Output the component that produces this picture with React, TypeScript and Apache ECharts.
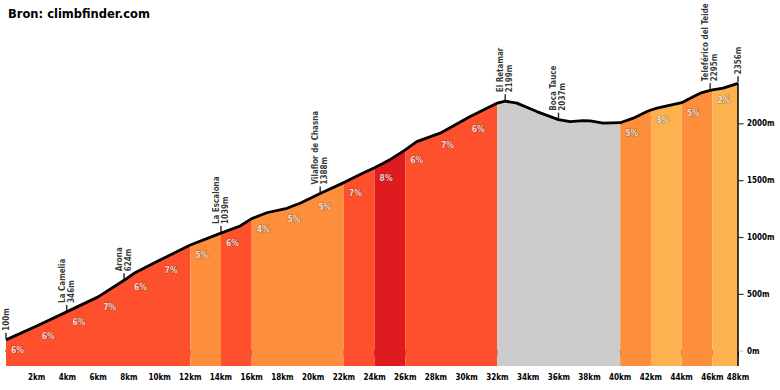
import React, { useEffect, useRef } from "react";
import * as echarts from "echarts";

// Elevation profile (km, m)
const distanceKm = [
  0, 2, 3.95, 6, 7.69, 8.4, 9.93, 12, 14, 15.24, 16, 16.98, 18.29, 19.15, 20.46, 22,
  23.26, 24, 25, 25.67, 26, 26.75, 28.27, 30.23, 32, 32.51, 33.27, 34.57, 35.98,
  36.74, 37.59, 38.05, 38.89, 40, 40.85, 41.74, 42, 42.39, 44, 44.56, 45.21, 45.86,
  46, 46.7, 47.67,
];
const elevationM = [
  100, 222, 346, 478, 624, 690, 795, 934, 1039, 1101, 1166, 1218, 1257, 1301, 1388, 1483,
  1568, 1614, 1685, 1742, 1771, 1844, 1918, 2064, 2183, 2199, 2182, 2108, 2037,
  2020, 2029, 2026, 2006, 2010, 2050, 2108, 2122, 2138, 2186, 2226, 2270, 2295,
  2298, 2314, 2356,
];

// Gradient segments
const segStart = [0, 2, 4, 6, 8, 10, 12, 14, 16, 18, 20, 22, 24, 26, 28, 30, 32, 40, 42, 44, 46];
const segEnd = [2, 4, 6, 8, 10, 12, 14, 16, 18, 20, 22, 24, 26, 28, 30, 32, 40, 42, 44, 46, 47.67];
const segGrade: (number | null)[] = [6, 6, 6, 7, 6, 7, 5, 6, 4, 5, 5, 7, 8, 6, 7, 6, null, 5, 3, 5, 2];

// Places
const placeKm = [0, 3.95, 7.69, 14, 20.46, 32.51, 35.98, 45.86, 47.67];
const placeName = ["", "La Camelia", "Arona", "La Escalona", "Vilaflor de Chasna", "El Retamar", "Boca Tauce", "Teleférico del Teide", ""];
const placeElev = [100, 346, 624, 1039, 1388, 2199, 2037, 2295, 2356];

// Axis ticks
const kmTickValues = [2, 4, 6, 8, 10, 12, 14, 16, 18, 20, 22, 24, 26, 28, 30, 32, 34, 36, 38, 40, 42, 44, 46, 47.67];
const elevTickValues = [0, 500, 1000, 1500, 2000];

const FONT = "'DejaVu Sans Condensed', 'DejaVu Sans', sans-serif";
const Y_MIN = -130;
const Y_MAX = 2500;

function gradeColor(g: number | null): string {
  if (g == null) return "#cccccc";
  if (g >= 8) return "#e01b1f";
  if (g >= 6) return "#fe502d";
  if (g >= 4) return "#fd8e3c";
  return "#feb24f";
}

function elevAt(km: number): number {
  for (let i = 0; i < distanceKm.length - 1; i++) {
    if (km >= distanceKm[i] && km <= distanceKm[i + 1]) {
      const t = (km - distanceKm[i]) / (distanceKm[i + 1] - distanceKm[i]);
      return elevationM[i] + t * (elevationM[i + 1] - elevationM[i]);
    }
  }
  return elevationM[elevationM.length - 1];
}

export default function App() {
  const ref = useRef<HTMLDivElement>(null);
  useEffect(() => {
    if (!ref.current) return;
    const chart = echarts.init(ref.current, null, { renderer: "svg" });

    const groups: { start: number; end: number; color: string }[] = [];
    segStart.forEach((s, i) => {
      const c = gradeColor(segGrade[i]);
      const last = groups[groups.length - 1];
      if (last && last.color === c) last.end = segEnd[i];
      else groups.push({ start: s, end: segEnd[i], color: c });
    });

    const profile = distanceKm.map((d, i) => [d, elevationM[i]]);
    const lastKm = distanceKm[distanceKm.length - 1];
    const lastElev = elevationM[elevationM.length - 1];

    const areaSeries = groups.map((g) => ({
      type: "line",
      data: profile.filter((p) => p[0] >= g.start - 1e-6 && p[0] <= g.end + 1e-6),
      symbol: "none",
      lineStyle: { width: 0, opacity: 0 },
      areaStyle: { color: g.color, opacity: 1, origin: "start" },
      silent: true,
      z: 1,
    }));

    const gradeLabels = segStart
      .map((s, i) => ({ s, g: segGrade[i] }))
      .filter((o) => o.g != null)
      .map((o) => [o.s + 0.75, elevAt(o.s), o.g]);

    const option: any = {
      animation: false,
      title: {
        text: "Bron: climbfinder.com",
        left: 8,
        top: 8,
        padding: 0,
        textStyle: { fontFamily: "'DejaVu Sans', sans-serif", fontWeight: "bold", fontSize: 11.5, color: "#000" },
      },
      grid: { left: 6, right: 42, top: 67, bottom: 24 },
      xAxis: {
        type: "value",
        min: 0,
        max: lastKm,
        axisLine: { lineStyle: { color: "#000", width: 1.5 } },
        axisTick: { customValues: kmTickValues, length: 5, lineStyle: { color: "#000", width: 1.5 } },
        axisLabel: {
          customValues: kmTickValues,
          formatter: (v: number) => Math.round(v) + "km",
          fontFamily: FONT,
          fontWeight: "bold",
          fontSize: 8,
          color: "#000",
          margin: 7,
        },
        splitLine: { show: false },
      },
      yAxis: {
        type: "value",
        position: "right",
        min: Y_MIN,
        max: Y_MAX,
        axisLine: { show: false },
        axisTick: { show: false },
        axisLabel: {
          customValues: elevTickValues,
          formatter: (v: number) => v + "m",
          fontFamily: FONT,
          fontWeight: "bold",
          fontSize: 8,
          color: "#000",
          margin: 9,
        },
        splitLine: { show: false },
      },
      series: [
        ...areaSeries,
        {
          type: "line",
          data: profile,
          symbol: "none",
          lineStyle: { color: "#000", width: 2.8 },
          silent: true,
          z: 5,
          markLine: {
            silent: true,
            symbol: "none",
            label: { show: false },
            lineStyle: { color: "#000", width: 1.5, type: "solid" },
            data: [[{ coord: [lastKm, Y_MIN] }, { coord: [lastKm, lastElev] }]],
          },
        },
        {
          // elevation axis ticks on the right edge
          type: "scatter",
          data: elevTickValues.map((v) => ({
            value: [lastKm, v],
            itemStyle: { color: v === 0 ? "#cccccc" : "#000" },
          })),
          symbol: "rect",
          symbolSize: [5, 1.2],
          symbolOffset: [3, 0],
          clip: false,
          silent: true,
          z: 6,
        },
        {
          type: "scatter",
          data: gradeLabels,
          symbol: "circle",
          symbolSize: 0.1,
          itemStyle: { color: "transparent" },
          silent: true,
          z: 6,
          label: {
            show: true,
            position: "bottom",
            distance: 5.5,
            formatter: (p: any) => p.value[2] + "%",
            color: "#fff",
            fontFamily: FONT,
            fontWeight: "bold",
            fontSize: 8.5,
            textBorderColor: "rgba(60,20,0,0.45)",
            textBorderWidth: 1.2,
          },
        },
        {
          type: "scatter",
          data: placeKm.map((k, i) => [k, placeElev[i], placeName[i]]),
          symbol: "rect",
          symbolSize: [1.5, 6],
          symbolOffset: [0, -4],
          itemStyle: { color: "#000" },
          clip: false,
          silent: true,
          z: 7,
          label: {
            show: true,
            position: "top",
            distance: 2,
            rotate: 90,
            align: "left",
            verticalAlign: "middle",
            lineHeight: 9,
            formatter: (p: any) =>
              p.value[2] ? p.value[2] + "\n" + p.value[1] + "m" : p.value[1] + "m",
            color: "#000",
            fontFamily: FONT,
            fontWeight: "bold",
            fontSize: 8,
          },
        },
      ],
    };
    chart.setOption(option);
    return () => chart.dispose();
  }, []);
  return (
    <div
      ref={ref}
      style={{ position: "absolute", left: 0, top: 0, width: 780, height: 390, background: "#fff" }}
    />
  );
}
